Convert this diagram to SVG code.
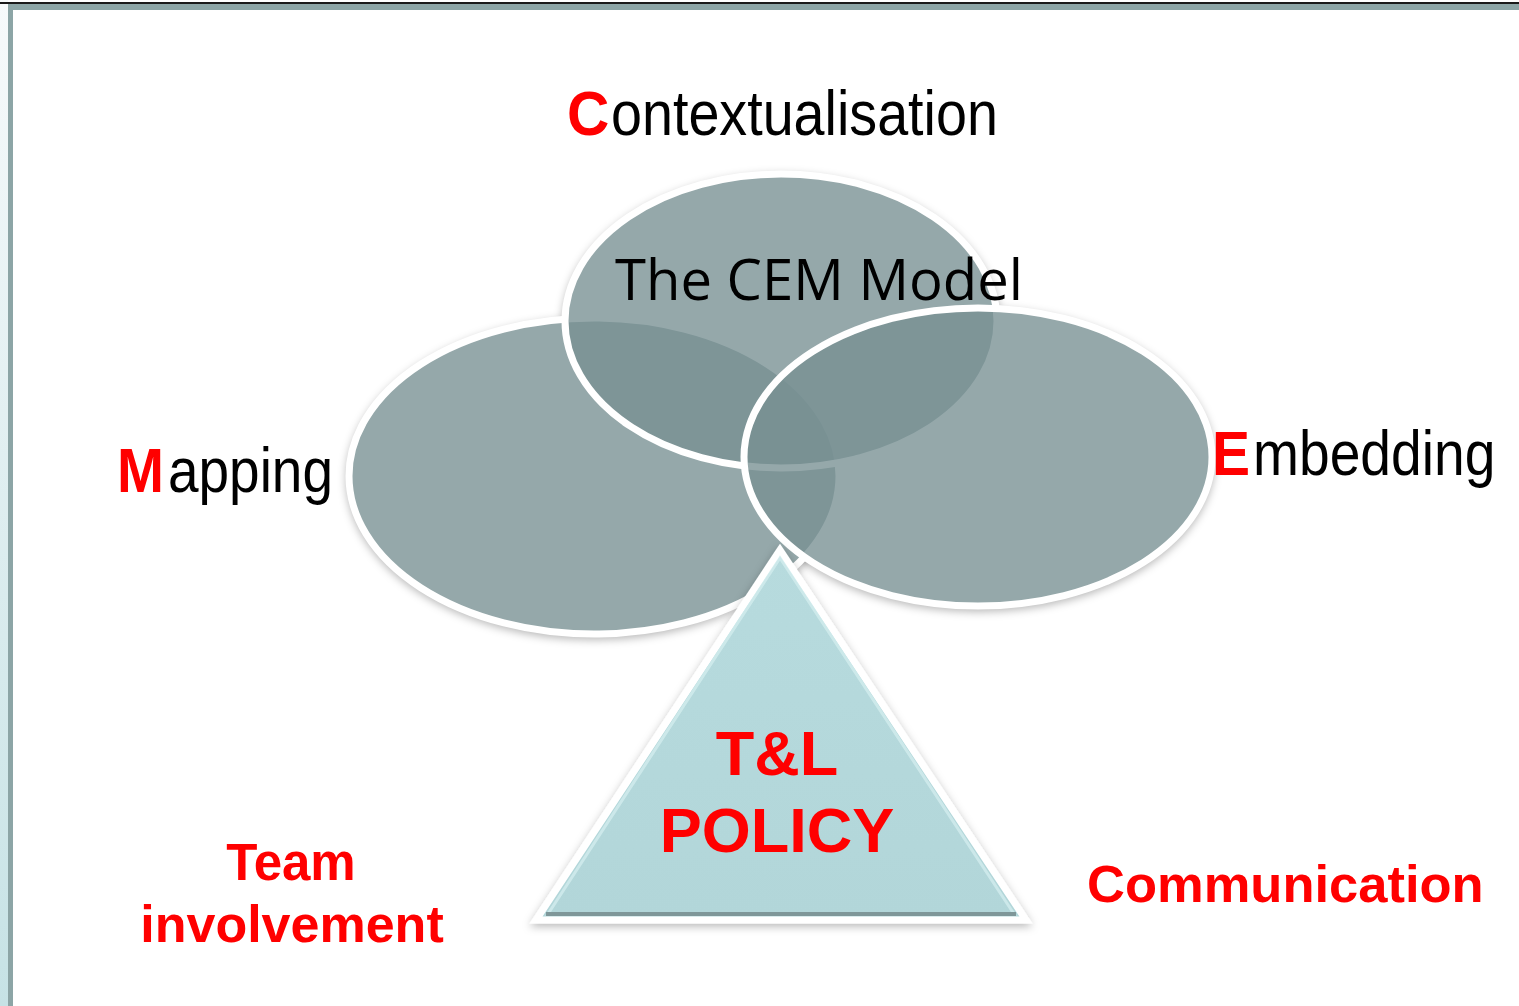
<svg xmlns="http://www.w3.org/2000/svg" width="1519" height="1006" viewBox="0 0 1519 1006">
  <defs>
    <linearGradient id="strip" x1="0" y1="0" x2="0" y2="1">
      <stop offset="0" stop-color="#f7fafb"/>
      <stop offset="1" stop-color="#c6e2e5"/>
    </linearGradient>
    <filter id="shadow" x="-10%" y="-10%" width="120%" height="125%">
      <feDropShadow dx="0" dy="3" stdDeviation="4" flood-color="#000" flood-opacity="0.28"/>
    </filter>
    <filter id="blur" x="-10%" y="-10%" width="120%" height="125%">
      <feGaussianBlur stdDeviation="4"/>
    </filter>
    <linearGradient id="triFill" x1="0" y1="0" x2="0" y2="1">
      <stop offset="0" stop-color="#b7dbde"/>
      <stop offset="1" stop-color="#b2d6d9"/>
    </linearGradient>
  </defs>
  <style>
    .ell { fill: #778f92; fill-opacity: 0.78; stroke: #ffffff; stroke-width: 7; }
    .sh { fill: #000; opacity: 0.28; }
    .lbl { font-family: "Liberation Sans", Arial, sans-serif; font-size: 63px; fill: #000; }
    .cap { font-family: "Liberation Sans", Arial, sans-serif; font-weight: bold; font-size: 63px; fill: #ff0000; }
    .red { font-family: "Liberation Sans", Arial, sans-serif; font-weight: bold; fill: #ff0000; }
  </style>

  <!-- page frame -->
  <rect x="0" y="0" width="1519" height="1006" fill="#ffffff"/>
  <rect x="0" y="0" width="8" height="1006" fill="url(#strip)"/>
  <rect x="0" y="2" width="1519" height="2" fill="#1a1a1a"/>
  <rect x="8" y="4" width="1511" height="6" fill="#8ca5a6"/>
  <rect x="8" y="4" width="5" height="1002" fill="#8ca5a6"/>

  <g id="connectors"/>

  <!-- soft shadows under the ellipses -->
  <g id="ellipse-shadows">
    <g filter="url(#blur)">
      <ellipse class="sh" cx="594" cy="479" rx="248" ry="161"/>
      <ellipse class="sh" cx="781" cy="324" rx="219" ry="150"/>
      <ellipse class="sh" cx="978" cy="460" rx="237" ry="152"/>
    </g>
    <ellipse cx="594" cy="476" rx="245" ry="158" fill="#ffffff"/>
    <ellipse cx="781" cy="321" rx="216" ry="147" fill="#ffffff"/>
    <ellipse cx="978" cy="457" rx="234" ry="149" fill="#ffffff"/>
  </g>

  <!-- ellipses -->
  <g id="node-mapping">
    <ellipse class="ell" cx="594" cy="476" rx="245" ry="158"/>
  </g>
  <g id="node-contextualisation">
    <ellipse class="ell" cx="781" cy="321" rx="216" ry="147"/>
  </g>
  <g id="node-embedding">
    <ellipse class="ell" cx="978" cy="457" rx="234" ry="149"/>
  </g>

  <!-- triangle -->
  <g id="node-policy">
    <polygon points="780,550 536,920 1026,920" fill="url(#triFill)" stroke="#ffffff" stroke-width="7" stroke-linejoin="miter" filter="url(#shadow)"/>
    <polygon points="780,558 548,914 1014,914" fill="none" stroke="#d2ecee" stroke-width="3" opacity="0.8"/>
    <line x1="546" y1="914" x2="1016" y2="914" stroke="#7f9799" stroke-width="4"/>
    <text class="red" x="777" y="775" font-size="63" text-anchor="middle">T&amp;L</text>
    <text class="red" x="777" y="852" font-size="63" text-anchor="middle">POLICY</text>
  </g>

  <!-- labels -->
  <g id="label-contextualisation">
    <text class="cap" transform="translate(567,135) scale(0.93,1)" font-size="64">C</text>
    <text class="lbl" transform="translate(611,135) scale(0.884,1)" font-size="64">ontextualisation</text>
  </g>
  <g id="label-model">
    <text x="615" y="300" font-family="Open Sans, 'Noto Sans', sans-serif" font-size="56" fill="#000" textLength="408" lengthAdjust="spacingAndGlyphs">The CEM Model</text>
  </g>
  <g id="label-mapping">
    <text class="cap" transform="translate(117,492) scale(0.895,1)">M</text>
    <text class="lbl" transform="translate(168,492) scale(0.872,1)">apping</text>
  </g>
  <g id="label-embedding">
    <text class="cap" transform="translate(1212,475) scale(0.905,1)">E</text>
    <text class="lbl" transform="translate(1253,475) scale(0.876,1)">mbedding</text>
  </g>
  <g id="label-team">
    <text class="red" x="291" y="880" font-size="51" text-anchor="middle">Team</text>
    <text class="red" x="292" y="942" font-size="52" text-anchor="middle">involvement</text>
  </g>
  <g id="label-communication">
    <text class="red" x="1087" y="902" font-size="52.5">Communication</text>
  </g>
</svg>
